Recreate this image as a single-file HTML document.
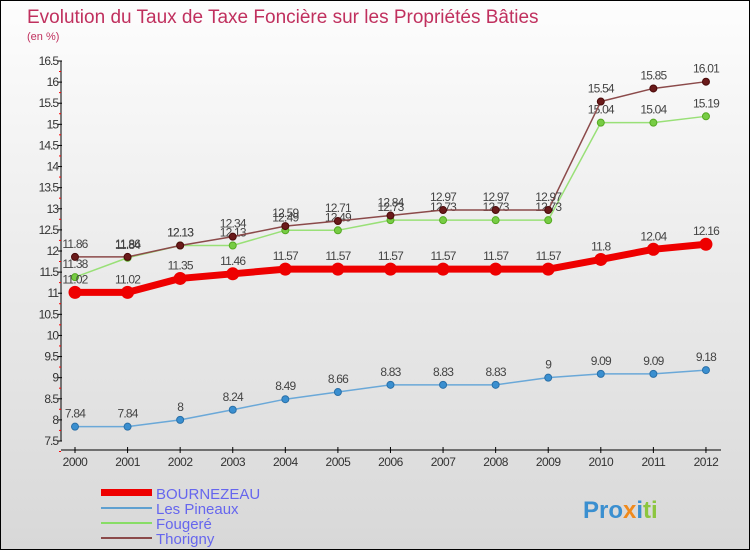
<!DOCTYPE html>
<html><head><meta charset="utf-8"><style>
html,body{margin:0;padding:0}
body{width:750px;height:550px;overflow:hidden;font-family:"Liberation Sans",sans-serif}
#wrap{position:relative;width:748px;height:548px;border:1px solid #000;background:linear-gradient(#fdfdfd,#d8d8d8)}
</style></head><body>
<div id="wrap">
<svg id="chart" width="748" height="548" style="position:absolute;left:0;top:0;font-family:'Liberation Sans',sans-serif">
<text x="26" y="22" font-size="19" fill="#c0305e">Evolution du Taux de Taxe Foncière sur les Propriétés Bâties</text>
<text x="26" y="39" font-size="11" fill="#c0305e">(en %)</text>
<g id="axes"></g><g id="series"></g>
<g>
<rect x="100" y="488" width="51" height="7" fill="#e00"/>
<text x="155" y="498" font-size="15" fill="#6666ee">BOURNEZEAU</text>
<line x1="100" y1="507" x2="151" y2="507" stroke="#5fa0d0" stroke-width="2"/>
<text x="155" y="513" font-size="15" fill="#6666ee">Les Pineaux</text>
<line x1="100" y1="522" x2="151" y2="522" stroke="#88dd66" stroke-width="2"/>
<text x="155" y="528" font-size="15" fill="#6666ee">Fougeré</text>
<line x1="100" y1="537" x2="151" y2="537" stroke="#8b4a4a" stroke-width="2"/>
<text x="155" y="543" font-size="15" fill="#6666ee">Thorigny</text>
</g>
<text x="582" y="517" font-size="24" font-weight="bold"><tspan fill="#3a8fd0">Pro</tspan><tspan fill="#f08a1c">x</tspan><tspan fill="#3a8fd0">i</tspan><tspan fill="#8cc63f">ti</tspan></text>
</svg>
</div>
<script>
const years=["2000","2001","2002","2003","2004","2005","2006","2007","2008","2009","2010","2011","2012"];
const bournezeau=[11.02,11.02,11.35,11.46,11.57,11.57,11.57,11.57,11.57,11.57,11.8,12.04,12.16];
const pineaux=[7.84,7.84,8,8.24,8.49,8.66,8.83,8.83,8.83,9,9.09,9.09,9.18];
const fougere=[11.38,11.84,12.13,12.13,12.49,12.49,12.73,12.73,12.73,12.73,15.04,15.04,15.19];
const thorigny=[11.86,11.86,12.13,12.34,12.59,12.71,12.84,12.97,12.97,12.97,15.54,15.85,16.01];
const yTicks=[7.5,8,8.5,9,9.5,10,10.5,11,11.5,12,12.5,13,13.5,14,14.5,15,15.5,16,16.5];
const NS="http://www.w3.org/2000/svg";
const x=i=>74+i*52.58;
const y=v=>440-(v-7.5)*(380/9);
function mk(t,a,p){const e=document.createElementNS(NS,t);for(const k in a)e.setAttribute(k,a[k]);p.appendChild(e);return e;}
const ax=document.getElementById('axes');
const yl=mk('line',{x1:60,y1:y(16.5),x2:60,y2:y(7.5),stroke:'#000'},ax);


const xl=mk('line',{x1:60,y1:449,x2:720,y2:449,stroke:'#000'},ax);


yTicks.forEach(v=>{
  mk('line',{x1:57,y1:y(v),x2:61,y2:y(v),stroke:'#000'},ax);
  mk('line',{x1:58,y1:y(v)+10.5,x2:60,y2:y(v)+10.5,stroke:'#f00'},ax);
  const t=mk('text',{x:57,y:y(v)+4,'font-size':12,'text-anchor':'end',fill:'#333','letter-spacing':'-1'},ax);
  t.textContent=String(v);
  
  
});
years.forEach((yr,i)=>{
  mk('line',{x1:x(i),y1:446,x2:x(i),y2:452,stroke:'#000'},ax);
  const t=mk('text',{x:x(i),y:465,'font-size':12,'text-anchor':'middle',fill:'#333','letter-spacing':'-0.5'},ax);
  t.textContent=yr;
  
  
});
const sg=document.getElementById('series');
function draw(data,name,color,w,r,dot,lw){
  const g=mk('g',{},sg);
  
  
  const pl=mk('polyline',{points:data.map((v,i)=>x(i)+','+y(v)).join(' '),fill:'none',stroke:color,'stroke-width':w,'stroke-linejoin':'round'},g);
  
  
  data.forEach((v,i)=>{
    const c=mk('circle',{cx:x(i),cy:y(v),r:r,fill:dot,stroke:lw,'stroke-width':1},g);
    
    
    const t=mk('text',{x:x(i),y:y(v)-9,'font-size':12,'text-anchor':'middle',fill:'#444','letter-spacing':'-0.8'},g);
    t.textContent=String(v);
    
    
  });
}
draw(pineaux,'les-pineaux','#6aa8d8',1.5,3.5,'#3a8fd0','#2a70a8');
draw(fougere,'fougere','#99e077',1.5,3.5,'#77cc44','#55aa22');
draw(thorigny,'thorigny','#8b4a4a',1.5,3.5,'#6a1a1a','#4a0a0a');
draw(bournezeau,'bournezeau','#ee0000',7,6,'#ee0000','#ee0000');
</script>
</body></html>
